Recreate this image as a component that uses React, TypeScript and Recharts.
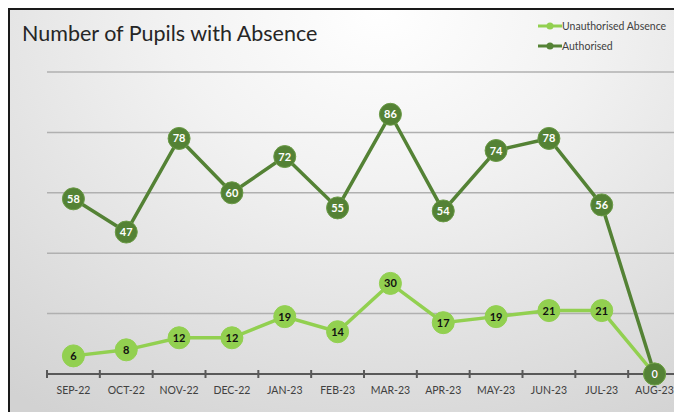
import React from "react";
import { LineChart, Line, XAxis, YAxis, CartesianGrid, Legend, LabelList } from "recharts";

const MONTHS = ["SEP-22", "OCT-22", "NOV-22", "DEC-22", "JAN-23", "FEB-23", "MAR-23", "APR-23", "MAY-23", "JUN-23", "JUL-23", "AUG-23"];
const UNAUTHORISED = [6, 8, 12, 12, 19, 14, 30, 17, 19, 21, 21, 0];
const AUTHORISED = [58, 47, 78, 60, 72, 55, 86, 54, 74, 78, 56, 0];
const Y_TICKS = [0, 20, 40, 60, 80, 100];

const LIGHT = "#92d050";
const DARK = "#548235";
const FONT = "Lato, 'Open Sans', sans-serif";

const W = 672;
const H = 402;
const M = { top: 62, right: 1, left: 37, bottom: 0 };
const STEP = (W - M.left - M.right) / MONTHS.length;

const data = MONTHS.map((m, i) => ({
  month: m,
  unauth: UNAUTHORISED[i],
  auth: AUTHORISED[i],
}));

// month label in the middle, little tick marks on the band edges
const MonthTick = (props: any) => {
  const { x, y, payload, index } = props;
  const left = x - STEP / 2;
  return (
    <g>
      <line x1={left} x2={left} y1={y - 4} y2={y + 4} stroke="#595959" strokeWidth={2} />
      {index === MONTHS.length - 1 && (
        <line x1={x + STEP / 2} x2={x + STEP / 2} y1={y - 4} y2={y + 4} stroke="#595959" strokeWidth={2} />
      )}
      <text x={x} y={y + 20} textAnchor="middle" fontSize={10.5} fill="#404040" fontFamily={FONT}>
        {payload.value}
      </text>
    </g>
  );
};

const valueLabel = (color: string) => (props: any) => {
  const { x, y, value } = props;
  return (
    <text x={x} y={y} dy={4} textAnchor="middle" fontSize={11} fontWeight="bold" fill={color} fontFamily={FONT}>
      {value}
    </text>
  );
};

const LegendBox = () => (
  <div style={{ fontFamily: FONT, fontSize: 10.5, color: "#404040", lineHeight: "20px", whiteSpace: "nowrap" }}>
    {[
      { c: LIGHT, t: "Unauthorised Absence" },
      { c: DARK, t: "Authorised" },
    ].map((it) => (
      <div key={it.t} style={{ display: "flex", alignItems: "center" }}>
        <svg width={24} height={10}>
          <line x1={0} x2={24} y1={5} y2={5} stroke={it.c} strokeWidth={3} />
          <circle cx={12} cy={5} r={3.5} fill={it.c} />
        </svg>
        <span>{it.t}</span>
      </div>
    ))}
  </div>
);

export default function App() {
  return (
    <div
      style={{
        width: 672,
        height: 402,
        borderTop: "2px solid #1a1a1a",
        borderLeft: "2px solid #1a1a1a",
        position: "relative",
        overflow: "hidden",
        background: "radial-gradient(ellipse 90% 120% at 55% 0%, #ffffff 0%, #f2f2f2 35%, #d2d2d2 100%)",
      }}
    >
      <div
        style={{
          position: "absolute",
          left: 12,
          top: 10,
          fontFamily: FONT,
          fontSize: 21.5,
          color: "#262626",
        }}
      >
        Number of Pupils with Absence
      </div>
      <LineChart width={W} height={H} data={data} margin={M}>
        <CartesianGrid horizontal vertical={false} stroke="#b0b0b0" strokeWidth={1.5} />
        <YAxis hide domain={[0, 100]} ticks={Y_TICKS} />
        <XAxis
          dataKey="month"
          scale="band"
          height={38}
          tickSize={0}
          tickMargin={0}
          tickLine={false}
          axisLine={{ stroke: "#595959", strokeWidth: 2 }}
          tick={<MonthTick />}
          interval={0}
        />
        <Legend
          verticalAlign="middle"
          align="center"
          layout="vertical"
          content={<LegendBox />}
          wrapperStyle={{ top: 6, left: 528, width: 140, height: 44 }}
        />
        <Line
          dataKey="unauth"
          name="Unauthorised Absence"
          stroke={LIGHT}
          strokeWidth={3.5}
          dot={{ r: 11, fill: LIGHT, stroke: LIGHT, strokeWidth: 1 }}
          isAnimationActive={false}
        >
          <LabelList dataKey="unauth" content={valueLabel("#111")} />
        </Line>
        <Line
          dataKey="auth"
          name="Authorised"
          stroke={DARK}
          strokeWidth={3.5}
          dot={{ r: 11, fill: DARK, stroke: "#6a9a45", strokeWidth: 1 }}
          isAnimationActive={false}
        >
          <LabelList dataKey="auth" content={valueLabel("#ffffff")} />
        </Line>
      </LineChart>
    </div>
  );
}
